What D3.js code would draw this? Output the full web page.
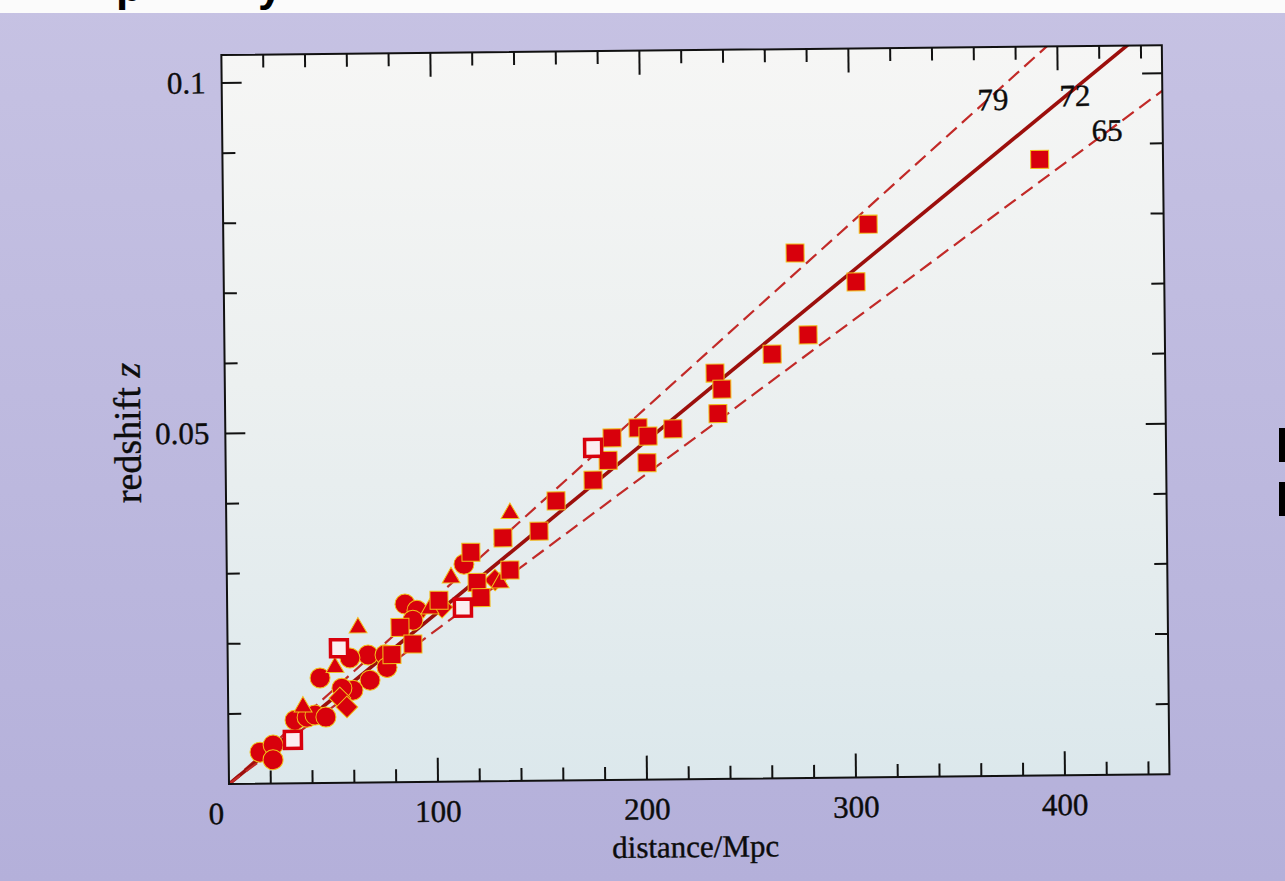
<!DOCTYPE html>
<html><head><meta charset="utf-8">
<script src="https://cdn.jsdelivr.net/npm/d3@7"></script>
<style>html,body{margin:0;padding:0;background:#fff;overflow:hidden}</style>
</head><body>
<svg id="chart" width="1285" height="881"></svg>
<script>
// ---- data (distance in Mpc, redshift z) ----
const filledSquares = [
  [391,0.0879],[308.6,0.0789],[273.5,0.0749],[302.5,0.0707],[279.3,0.0632],[262,0.0605],
  [234.6,0.0579],[237.8,0.0556],[235.8,0.0521],[214.2,0.0500],[197.5,0.0502],[202.2,0.0490],
  [185,0.0488],[183,0.0456],[201.6,0.0452],[175.7,0.0428],[157.9,0.0399],[149.6,0.0356],
  [132.3,0.0347],[116.9,0.0327],[135.5,0.0301],[119.7,0.0284],[121.5,0.0262],[101.4,0.0259],
  [82.6,0.0221],[88.7,0.0197],[78.6,0.0182]
];
const openSquares = [[175.9,0.0474],[112.8,0.0248],[53.3,0.0192],[30.8,0.0062]];
const triangles = [[135.8,0.0382],[107.3,0.0291],[62.5,0.0221],[51.3,0.0165],[35.8,0.0109],[97,0.0247],[130.7,0.0283]];
const circles = [
  [113.5,0.0310],[85.1,0.0254],[90.8,0.0245],[88.8,0.0231],[67.2,0.0182],[58.5,0.0178],
  [75.3,0.0182],[76.2,0.0164],[68,0.0146],[59.8,0.0132],[54.5,0.0135],[44.1,0.0150],
  [31.9,0.0090],[37.7,0.0094],[41.5,0.0097],[46.7,0.0094],[15,0.0045],[21.3,0.0055],[21.2,0.0034]
];
const diamonds = [[128.3,0.0287],[102.8,0.0249],[53.5,0.0121],[56.8,0.0108]];
const hubbleValues = [79, 72, 65];
const xTickLabels = [0, 100, 200, 300, 400];
const yTickLabels = [0.05, 0.1];
const speedOfLight = 3e5;

// ---- layout ----
const W = 940.5, H = 729;
const svg = d3.select("#chart");
const serif = "'Liberation Serif','Times New Roman',serif";
const RED = "#d8000c", EDGE = "#f2c21a";

const defs = svg.append("defs");
const bg = defs.append("linearGradient").attr("id","pg").attr("x1",0).attr("y1",0).attr("x2",0).attr("y2",1);
bg.append("stop").attr("offset","0%").attr("stop-color","#f6f6f5");
bg.append("stop").attr("offset","45%").attr("stop-color","#ecf0f0");
bg.append("stop").attr("offset","100%").attr("stop-color","#dce8ec");
const lav = defs.append("linearGradient").attr("id","lav").attr("x1",0).attr("y1",0).attr("x2",0).attr("y2",1);
lav.append("stop").attr("offset","0%").attr("stop-color","#c6c2e3");
lav.append("stop").attr("offset","100%").attr("stop-color","#b4b0da");

svg.append("rect").attr("width",1285).attr("height",881).attr("fill","url(#lav)");
svg.append("rect").attr("width",1285).attr("height",13).attr("fill","#fbfbfb");
// cut-off heading fragments (partly above the page edge, as in the scan)
svg.append("text").attr("x",116).attr("y",1).attr("font-family","'Liberation Sans',Arial,sans-serif")
  .attr("font-weight","bold").attr("font-size",44).text("p");
svg.append("text").attr("x",258).attr("y",1).attr("font-family","'Liberation Sans',Arial,sans-serif")
  .attr("font-weight","bold").attr("font-size",44).text("y");
// marks at right edge
svg.append("rect").attr("x",1279).attr("y",428).attr("width",6).attr("height",34).attr("fill","#000");
svg.append("rect").attr("x",1279).attr("y",482).attr("width",6).attr("height",34).attr("fill","#000");

const x = d3.scaleLinear().domain([0,450]).range([0,W]);
const y = d3.scaleLinear().domain([0,0.104]).range([0,-H]);

const g = svg.append("g").attr("transform","translate(229,784) rotate(-0.6)");

g.append("rect").attr("x",0).attr("y",-H).attr("width",W).attr("height",H).attr("fill","url(#pg)");
defs.append("clipPath").attr("id","clip").append("rect").attr("x",0).attr("y",-H).attr("width",W).attr("height",H);

// ticks
const tk = g.append("g").attr("stroke","#111").attr("stroke-width",2);
d3.range(20,450,20).forEach(v => {
  const L = v % 100 === 0 ? 24 : 13;
  tk.append("line").attr("x1",x(v)).attr("x2",x(v)).attr("y1",0).attr("y2",-L);
  tk.append("line").attr("x1",x(v)).attr("x2",x(v)).attr("y1",-H).attr("y2",-H+L);
});
d3.range(1,11).map(i=>i/100).forEach(v => {
  const L = (Math.round(v*100) % 5 === 0) ? 20 : 13;
  tk.append("line").attr("y1",y(v)).attr("y2",y(v)).attr("x1",0).attr("x2",L);
  tk.append("line").attr("y1",y(v)).attr("y2",y(v)).attr("x1",W).attr("x2",W-L);
});

// Hubble lines
const lines = g.append("g").attr("clip-path","url(#clip)");
hubbleValues.forEach(h0 => {
  const solid = h0 === 72;
  lines.append("line")
    .attr("x1",x(0)).attr("y1",y(0))
    .attr("x2",x(450)).attr("y2",y(450*h0/speedOfLight))
    .attr("stroke", solid ? "#9c0f0c" : "#c22a28")
    .attr("stroke-width", solid ? 3.6 : 2.2)
    .attr("stroke-dasharray", solid ? null : "14,7");
});

// markers
const mk = g.append("g");
const pt = d => `translate(${x(d[0])},${y(d[1])})`;
mk.selectAll(".c").data(circles).join("circle").attr("transform",pt).attr("r",10)
  .attr("fill",RED).attr("stroke",EDGE).attr("stroke-width",1);
mk.selectAll(".d").data(diamonds).join("path").attr("transform",pt)
  .attr("d",d3.symbol(d3.symbolDiamond2,300)).attr("fill",RED).attr("stroke",EDGE).attr("stroke-width",1);
mk.selectAll(".t").data(triangles).join("path").attr("transform",pt)
  .attr("d",d3.symbol(d3.symbolTriangle2,230)).attr("fill",RED).attr("stroke",EDGE).attr("stroke-width",1);
mk.selectAll(".s").data(filledSquares).join("rect").attr("transform",pt)
  .attr("x",-9).attr("y",-9).attr("width",18).attr("height",18)
  .attr("fill",RED).attr("stroke",EDGE).attr("stroke-width",1);
mk.selectAll(".o").data(openSquares).join("rect").attr("transform",pt)
  .attr("x",-8.5).attr("y",-8.5).attr("width",17).attr("height",17)
  .attr("fill","#fbeef0").attr("stroke",RED).attr("stroke-width",3.5);

// frame
g.append("rect").attr("x",0).attr("y",-H).attr("width",W).attr("height",H)
  .attr("fill","none").attr("stroke","#111").attr("stroke-width",2);

// labels
const txt = g.append("g").attr("font-family",serif).attr("fill","#0c0c0c")
  .attr("stroke","#0c0c0c").attr("stroke-width",0.4);
txt.selectAll(".xl").data(xTickLabels).join("text")
  .attr("x",d => d===0 ? x(d)-13 : x(d)).attr("y",40).attr("text-anchor","middle")
  .attr("font-size",31).text(d => d);
txt.selectAll(".yl").data(yTickLabels).join("text")
  .attr("x",-16).attr("y",d => y(d)+10).attr("text-anchor","end")
  .attr("font-size",31).text(d => d);
txt.append("text").attr("x",466).attr("y",78).attr("text-anchor","middle").attr("font-size",31).text("distance/Mpc");
const yt = txt.append("text").attr("transform",`translate(-85,${-352}) rotate(-90)`)
  .attr("text-anchor","middle").attr("font-size",38);
yt.append("tspan").text("redshift ");
yt.append("tspan").attr("font-style","italic").text("z");
const hubbleLabelPos = {79:[771,-666], 72:[853,-669], 65:[885,-634]};
hubbleValues.forEach(h0 => {
  txt.append("text").attr("x",hubbleLabelPos[h0][0]).attr("y",hubbleLabelPos[h0][1])
    .attr("text-anchor","middle").attr("font-size",31).text(h0);
});
</script>
</body></html>
